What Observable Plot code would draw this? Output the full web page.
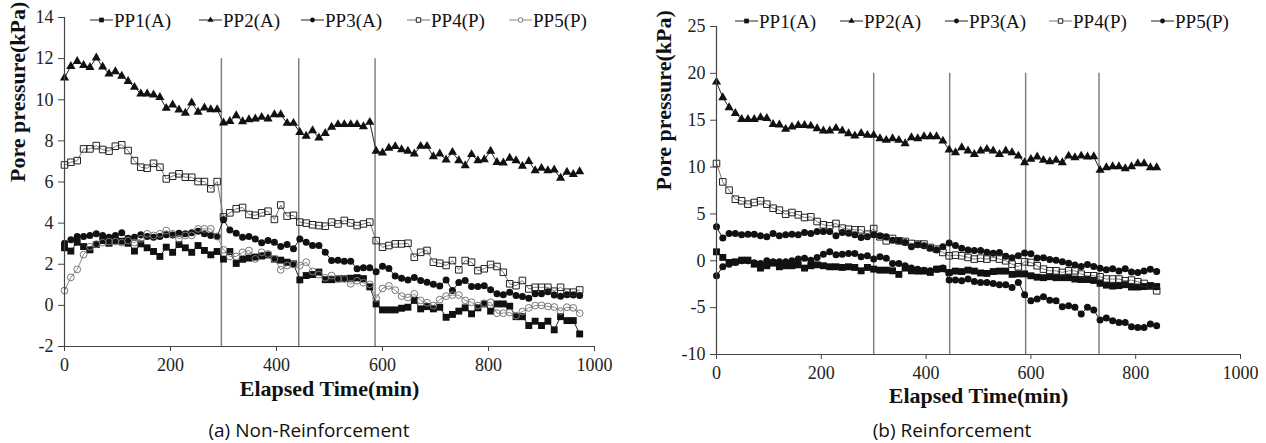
<!DOCTYPE html>
<html><head><meta charset="utf-8">
<script src="https://cdn.jsdelivr.net/npm/d3@7"></script>
<script src="https://cdn.jsdelivr.net/npm/@observablehq/plot@0.6"></script>
<style>
body{margin:0;background:#fff;}
#wrap{position:relative;width:1266px;height:443px;overflow:hidden;background:#fff;}
.panel{position:absolute;top:0;}
.panel text{font-family:'Liberation Serif','Times New Roman',serif;}
.leg{position:absolute;display:flex;align-items:center;font-family:'Liberation Serif','Times New Roman',serif;font-size:19px;color:#111;white-space:nowrap;line-height:1;}
.leg svg{display:block;margin-right:1px;}
.cap{position:absolute;font-family:'Open Sans',sans-serif;font-size:19px;color:#111;transform:translate(-50%,-50%);white-space:nowrap;line-height:1;}
</style></head><body><div id="wrap"></div>
<script>
// ---------- Panel (a) Non-Reinforcement ----------
const timeA = [0,12,24,36,48,60,72,84,96,108,120,132,144,156,168,180,192,204,216,228,240,252,264,276,288,300,312,324,336,348,360,372,384,396,408,420,432,444,456,468,480,492,504,516,528,540,552,564,576,588,600,612,624,636,648,660,672,684,696,708,720,732,744,756,768,780,792,804,816,828,840,852,864,876,888,900,912,924,936,948,960,972];
const pp1A = [2.80,2.64,3.07,2.86,2.70,2.96,3.15,3.02,3.15,3.12,3.02,2.64,2.99,2.80,2.62,2.38,2.83,2.58,2.96,2.80,2.58,2.91,2.67,2.46,2.62,
  2.25,2.62,2.04,2.24,2.30,2.35,2.40,2.45,2.25,2.20,2.10,2.02,
  1.24,1.45,1.50,1.62,1.25,1.25,1.29,1.30,1.32,1.35,1.30,0.90,
  0.07,-0.22,-0.22,-0.22,-0.14,-0.09,0.24,-0.17,-0.06,-0.17,-0.09,-0.58,-0.44,-0.28,-0.12,-0.41,-0.12,0.07,-0.28,0.07,0.07,-0.04,-0.55,-0.55,-0.98,-0.77,-0.98,-0.77,-1.19,-0.55,-0.74,-0.74,-1.39];
const pp2A = [11.07,11.63,11.87,11.67,11.58,12.04,11.60,11.26,11.37,11.15,10.90,10.61,10.29,10.29,10.24,10.12,9.59,9.75,9.51,9.35,9.85,9.40,9.61,9.52,9.52,
  8.88,8.95,9.23,8.94,9.04,9.07,9.15,9.07,9.28,9.28,8.86,8.86,
  8.42,8.23,8.50,8.15,8.37,8.67,8.80,8.80,8.80,8.80,8.70,8.91,
  7.50,7.42,7.65,7.73,7.58,7.50,7.37,7.74,7.74,7.24,7.37,7.08,7.45,7.04,6.80,7.34,7.04,7.09,7.50,6.96,6.93,7.16,7.04,6.77,7.01,6.56,6.67,6.56,6.59,6.19,6.48,6.37,6.51];
const pp3A = [3.02,3.19,3.35,3.35,3.40,3.48,3.40,3.31,3.40,3.53,3.27,3.31,3.44,3.35,3.31,3.35,3.44,3.42,3.51,3.48,3.53,3.61,3.48,3.40,3.35,
  4.16,3.67,3.51,3.31,3.35,3.23,3.04,3.15,3.07,2.86,2.96,2.75,
  3.23,3.07,2.91,2.91,2.58,2.18,2.20,2.15,2.15,1.78,1.83,1.83,
  1.63,1.90,1.79,1.43,1.32,1.24,1.36,1.21,1.12,1.03,0.94,1.24,0.72,1.11,1.21,0.92,0.92,0.95,0.76,0.56,0.52,0.64,0.48,0.43,0.35,0.56,0.56,0.66,0.50,0.44,0.52,0.51,0.48];
const pp4A = [6.83,6.96,7.04,7.61,7.61,7.77,7.58,7.50,7.74,7.81,7.53,7.04,6.72,6.67,6.91,6.72,6.15,6.28,6.40,6.23,6.23,6.02,6.02,5.67,6.02,
  4.30,4.50,4.70,4.76,4.42,4.38,4.50,4.58,4.18,4.88,4.34,4.38,
  4.05,4.00,3.92,3.88,3.85,4.05,3.96,4.13,4.01,3.88,3.96,4.05,
  3.15,2.83,2.91,2.99,2.99,3.02,2.34,2.58,2.67,2.10,2.05,1.94,2.18,1.73,2.18,2.10,1.69,1.78,1.99,1.89,1.61,1.05,0.96,1.21,0.80,0.88,0.88,0.88,0.69,0.88,0.64,0.64,0.75];
const pp5A = [0.72,1.36,1.75,2.47,2.85,2.98,3.05,3.10,3.10,3.05,3.15,3.05,3.24,3.48,3.40,3.48,3.64,3.48,3.24,3.40,3.40,3.72,3.72,3.72,3.35,
  2.70,2.38,2.38,2.58,2.67,2.26,2.58,2.50,2.26,1.73,1.94,1.99,
  1.94,2.10,1.65,1.50,1.34,1.45,1.29,1.29,1.05,1.20,1.10,1.02,
  0.35,0.82,0.95,0.74,0.45,0.38,0.56,0.24,0.13,-0.01,0.28,0.45,0.50,0.50,0.24,0.15,-0.01,0.10,0.15,-0.38,-0.38,-0.35,-0.50,-0.30,-0.12,-0.01,0.00,-0.05,-0.08,-0.28,-0.09,-0.12,-0.38];
const eventsA = [296, 442, 586];
const eventTopA = 12;
const xTicksA = [0, 200, 400, 600, 800, 1000];
const yTicksA = [-2, 0, 2, 4, 6, 8, 10, 12, 14];

// ---------- Panel (b) Reinforcement ----------
const timeB = [0,12,24,36,48,60,72,84,96,108,120,132,144,156,168,180,192,204,216,228,240,252,264,276,288,300,312,324,336,348,360,372,384,396,408,420,432,444,456,468,480,492,504,516,528,540,552,564,576,588,600,612,624,636,648,660,672,684,696,708,720,732,744,756,768,780,792,804,816,828,840];
const pp1B = [0.96,0.36,-0.18,-0.11,0.07,0.07,-0.36,-0.78,-0.53,-0.25,-0.64,-0.53,-0.53,-0.43,-0.78,-0.53,-0.43,-0.53,-0.64,-0.64,-0.71,-0.64,-0.71,-1.07,-0.71,-0.89,-1.00,-1.00,-1.07,-1.45,-0.78,-1.07,-1.10,-1.10,-1.24,-0.89,
  -0.85,-1.25,-1.10,-1.15,-1.00,-1.10,-1.30,-1.35,-1.15,-1.10,-1.10,-1.45,-1.40,-1.40,-1.60,-1.75,-1.80,-1.70,-1.80,-1.80,-1.80,-1.95,-2.00,-2.00,-2.10,-2.40,-2.60,-2.70,-2.65,-2.55,-2.80,-2.80,-2.75,-2.70,-2.75];
const pp2B = [19.08,17.41,16.35,15.74,15.10,15.10,15.10,15.28,15.21,14.57,14.50,14.04,14.29,14.46,14.46,14.39,14.11,13.86,13.86,14.15,13.86,13.58,13.33,13.61,13.40,13.40,
  13.04,12.87,13.04,12.87,12.51,13.15,13.04,13.26,13.26,13.26,12.79,
  11.85,11.55,12.08,11.73,11.37,11.73,11.91,11.73,11.37,11.73,11.55,11.19,10.48,10.84,11.09,10.73,10.59,10.73,10.48,11.19,11.02,11.19,11.09,11.12,9.67,9.95,10.06,10.06,9.84,10.06,10.37,10.37,9.95,9.95];
const pp3B = [3.62,2.42,2.91,2.91,2.77,2.84,2.84,2.67,2.56,2.91,2.67,2.77,2.84,2.77,3.02,2.91,3.13,3.13,3.13,2.67,3.02,2.95,2.77,2.49,2.56,2.77,2.67,2.56,2.20,2.13,1.95,1.49,1.71,1.60,1.35,1.14,1.49,1.89,1.62,1.35,1.14,1.10,
  1.10,0.90,0.80,0.89,0.48,0.32,0.55,0.83,0.75,0.30,0.32,0.14,0.05,-0.09,-0.27,-0.45,-0.62,-0.40,-0.62,-0.80,-0.95,-0.86,-1.10,-0.86,-1.19,-1.24,-1.10,-0.91,-1.14];
const pp4B = [10.38,8.42,7.54,6.57,6.40,6.04,6.22,6.40,6.04,5.61,5.40,4.97,5.15,4.90,4.62,4.69,4.19,3.84,3.73,3.98,3.48,3.37,3.30,3.30,2.84,3.44,2.56,2.13,2.38,2.13,2.06,1.85,1.78,1.78,1.42,1.24,0.89,0.53,0.60,0.53,0.36,0.18,
  0.28,0.18,0.36,0.18,0.00,-0.36,-0.64,-0.11,-0.18,-0.53,-0.89,-1.07,-1.07,-1.24,-1.07,-1.07,-1.42,-1.60,-1.60,-1.71,-1.95,-1.95,-1.95,-2.13,-2.06,-2.24,-2.42,-2.67,-3.20];
const pp5B = [-1.60,-0.64,-0.36,-0.18,0.00,0.00,-0.20,-0.30,0.00,-0.10,-0.10,-0.10,0.00,0.18,0.28,0.05,0.36,0.71,0.96,0.64,0.71,0.78,0.78,0.43,0.53,0.18,0.43,0.28,-0.28,-0.28,-0.53,-0.78,-0.89,-1.00,-1.07,-0.89,-0.78,-2.06,
  -2.06,-2.13,-1.95,-2.20,-2.31,-2.31,-2.42,-2.56,-2.56,-2.84,-2.31,-3.62,-4.26,-4.08,-3.84,-4.20,-4.26,-4.90,-4.80,-4.97,-5.68,-4.97,-5.26,-6.32,-6.11,-6.40,-6.58,-6.58,-7.04,-7.11,-7.11,-6.75,-6.93];
const eventsB = [300, 445, 590, 730];
const eventTopB = 20;
const xTicksB = [0, 200, 400, 600, 800, 1000];
const yTicksB = [-10, -5, 0, 5, 10, 15, 20, 25];

const seriesNames = ["PP1(A)", "PP2(A)", "PP3(A)", "PP4(P)", "PP5(P)"];
const xLabel = "Elapsed Time(min)";
const yLabel = "Pore pressure(kPa)";
const captionA = "(a) Non-Reinforcement";
const captionB = "(b) Reinforcement";

// styles (not data)
const SERIF = "Liberation Serif, Times New Roman, serif";
const styleA = [
  {symbol: "square", fill: "#111", stroke: "none", line: "#222", r: 3.9},
  {symbol: "triangle", fill: "#111", stroke: "none", line: "#222", r: 3.4},
  {symbol: "circle", fill: "#111", stroke: "none", line: "#222", r: 3.5},
  {symbol: "square", fill: "none", stroke: "#222", line: "#777", r: 3.7},
  {symbol: "circle", fill: "none", stroke: "#777", line: "#888", r: 3.4}
];
const styleB = [
  styleA[0], styleA[1], styleA[2], styleA[3],
  {symbol: "circle", fill: "#111", stroke: "none", line: "#222", r: 3.5}
];

function panel({time, series, styles, events, eventTop, xTicks, yTicks, width, marginLeft, marginRight, marginTop, marginBottom, titleDy, yTitleDx}) {
  const marks = [];
  marks.push(Plot.ruleX(events, {x: d => d, y1: eventTop, y2: yTicks[0], stroke: "#808080", strokeWidth: 1.5}));
  series.forEach((vals, i) => {
    const s = styles[i];
    marks.push(Plot.line(vals, {x: time, y: d => d, stroke: s.line, strokeWidth: 1}));
  });
  series.forEach((vals, i) => {
    const s = styles[i];
    marks.push(Plot.dot(vals, {x: time, y: d => d, symbol: s.symbol, r: s.r, fill: s.fill, stroke: s.stroke, strokeWidth: 1}));
  });
  marks.push(Plot.ruleX([xTicks[0]], {stroke: "#444", strokeWidth: 1.2}));
  marks.push(Plot.ruleY([yTicks[0]], {stroke: "#444", strokeWidth: 1.2}));
  marks.push(Plot.axisY({ticks: yTicks, tickSize: 6, tickPadding: 5, tickFormat: d => String(d), fontSize: 18, fontFamily: SERIF, color: "#222", stroke: "#444"}));
  marks.push(Plot.axisX({ticks: xTicks, tickSize: 5, tickPadding: 7, tickFormat: d => String(d), fontSize: 18, fontFamily: SERIF, color: "#222", stroke: "#444"}));
  marks.push(Plot.text([xLabel], {text: d => d, frameAnchor: "bottom", dy: titleDy, fontSize: 22, fontWeight: "bold", fontFamily: SERIF, fill: "#111"}));
  marks.push(Plot.text([yLabel], {text: d => d, frameAnchor: "left", dx: yTitleDx, rotate: -90, fontSize: 22, fontWeight: "bold", fontFamily: SERIF, fill: "#111"}));
  return Plot.plot({
    width, height: 443, marginLeft, marginRight, marginTop, marginBottom,
    style: "font-family: Liberation Serif, serif; font-size: 18px; background: transparent; overflow: visible;",
    x: {domain: [xTicks[0], xTicks[xTicks.length - 1]], label: null, axis: null},
    y: {domain: [yTicks[0], yTicks[yTicks.length - 1]], label: null, axis: null},
    marks
  });
}

const wrap = document.getElementById("wrap");

const svgA = panel({time: timeA, series: [pp1A, pp2A, pp3A, pp4A, pp5A], styles: styleA, events: eventsA, eventTop: eventTopA,
  xTicks: xTicksA, yTicks: yTicksA, width: 630, marginLeft: 64, marginRight: 36, marginTop: 17, marginBottom: 97, titleDy: 49, yTitleDx: -47});
svgA.classList.add("panel"); svgA.style.left = "0px";
wrap.appendChild(svgA);

const svgB = panel({time: timeB, series: [pp1B, pp2B, pp3B, pp4B, pp5B], styles: styleB, events: eventsB, eventTop: eventTopB,
  xTicks: xTicksB, yTicks: yTicksB, width: 626, marginLeft: 76, marginRight: 26, marginTop: 26, marginBottom: 89, titleDy: 48, yTitleDx: -53});
svgB.classList.add("panel"); svgB.style.left = "640px";
wrap.appendChild(svgB);

// legends
function markerSvg(s) {
  const ns = "http://www.w3.org/2000/svg";
  const svg = document.createElementNS(ns, "svg");
  svg.setAttribute("width", 23); svg.setAttribute("height", 12);
  const ln = document.createElementNS(ns, "line");
  ln.setAttribute("x1", 0); ln.setAttribute("x2", 23); ln.setAttribute("y1", 6); ln.setAttribute("y2", 6);
  ln.setAttribute("stroke", s.line); ln.setAttribute("stroke-width", 1);
  svg.appendChild(ln);
  const sym = {square: d3.symbolSquare, triangle: d3.symbolTriangle, circle: d3.symbolCircle}[s.symbol];
  const p = document.createElementNS(ns, "path");
  p.setAttribute("d", d3.symbol(sym, Math.PI * (s.r * 0.68) ** 2)());
  p.setAttribute("transform", "translate(11.5,6)");
  p.setAttribute("fill", s.fill === "none" ? "#fff" : s.fill);
  p.setAttribute("stroke", s.stroke === "none" ? "none" : s.stroke);
  svg.appendChild(p);
  return svg;
}
function legend(styles, lefts, cy) {
  seriesNames.forEach((name, i) => {
    const d = document.createElement("div");
    d.className = "leg";
    d.style.left = lefts[i] + "px";
    d.style.top = (cy - 10) + "px";
    d.style.height = "20px";
    d.appendChild(markerSvg(styles[i]));
    const t = document.createElement("span");
    t.textContent = name;
    d.appendChild(t);
    wrap.appendChild(d);
  });
}
legend(styleA, [90, 199, 301, 407, 509], 20);
legend(styleB, [735, 840, 945, 1049, 1151], 21);

function caption(text, cx, cy) {
  const d = document.createElement("div");
  d.className = "cap";
  d.style.left = cx + "px"; d.style.top = cy + "px";
  d.textContent = text;
  wrap.appendChild(d);
}
caption(captionA, 309, 430);
caption(captionB, 952, 430);
</script></body></html>
